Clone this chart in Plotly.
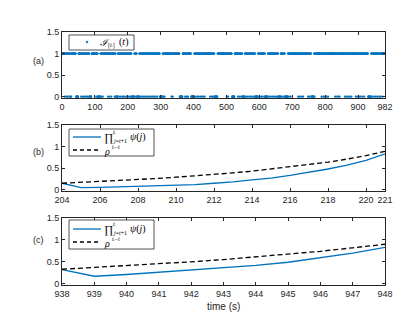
import plotly.graph_objects as go

# ---------------- data ----------------
# panel (a): indicator I_[ti](t), t = 0..982 ; times where it equals 0
T_MAX = 982
ZERO_TIMES = [
    8, 13, 17, 22, 26, 28,
    43, 44, 45, 46, 47, 48, 49,
    58, 63, 67, 72, 76, 80, 84, 85, 86, 87, 88, 89,
    104, 108, 110, 111, 112, 113, 114, 115, 116, 120, 124,
    140, 145, 150,
    160, 164, 165, 166, 167, 168, 169, 174, 179, 184, 188, 193, 198, 203, 207,
    212, 213, 214, 215, 216, 217, 218, 219, 224, 228, 229, 230, 231, 232, 233, 234,
    238, 243, 248, 252, 257, 262, 266, 271, 276, 280, 285, 290,
    298, 299, 300, 301, 302, 303, 304, 305, 309, 312,
    333, 337,
    358, 359, 360, 361, 362, 363, 364, 365, 366,
    374, 379, 383,
    393, 394, 395, 396, 397, 398, 399, 400, 401, 406, 411, 415, 420, 425, 429, 434,
    450, 455, 459, 464, 465, 466, 467, 468, 469, 470, 471, 472,
    501, 505,
    517, 518, 519, 520, 521, 522, 523, 524,
    535, 540, 545, 549, 550, 551, 552, 553, 554, 555, 560, 565, 570, 575, 580, 585,
    588, 589, 590, 591, 592, 593, 594, 595, 600, 605, 610, 615,
    618, 619, 620, 621, 622, 623, 624, 625, 630, 635, 640, 645, 650, 654,
    658, 659, 660, 661, 662, 663, 664,
    668, 673, 678, 679, 680, 681, 682, 683, 684, 685, 686, 690, 695,
    718, 723, 728, 733,
    748, 752, 758, 759, 760, 761, 762, 763, 764, 765, 768,
    789, 794, 799, 804, 809,
    830, 835, 840, 844,
    860, 865, 870, 875, 880,
    893, 898, 903, 908, 914, 919,
    931, 932, 933, 934, 935, 936, 937, 938, 939, 944, 949, 954, 959, 964, 969, 974,
]

# panel (b)
B_T = [204, 205, 206, 207, 208, 209, 210, 211, 212, 213, 214, 215, 216, 217, 218, 219, 220, 221]
B_PSI = [0.15, 0.05, 0.055, 0.065, 0.075, 0.085, 0.10, 0.12, 0.15, 0.18, 0.23, 0.27,
         0.33, 0.40, 0.48, 0.57, 0.68, 0.83]
B_RHO = [0.15, 0.17, 0.19, 0.21, 0.23, 0.26, 0.29, 0.32, 0.35, 0.39, 0.43, 0.48,
         0.53, 0.58, 0.64, 0.71, 0.79, 0.89]

# panel (c)
C_T = [938, 939, 940, 941, 942, 943, 944, 945, 946, 947, 948]
C_PSI = [0.32, 0.17, 0.21, 0.26, 0.31, 0.36, 0.42, 0.49, 0.59, 0.70, 0.83]
C_RHO = [0.33, 0.37, 0.41, 0.45, 0.50, 0.55, 0.61, 0.67, 0.74, 0.82, 0.90]

A_XTICKS = [0, 100, 200, 300, 400, 500, 600, 700, 800, 900, 982]
B_XTICKS = [204, 206, 208, 210, 212, 214, 216, 218, 220, 221]
C_XTICKS = [938, 939, 940, 941, 942, 943, 944, 945, 946, 947, 948]
Y_TICKS = [0, 0.5, 1, 1.5]
Y_TICKTEXT = ["0", "0.5", "1", "1.5"]

PANEL_LABELS = ["(a)", "(b)", "(c)"]
X_TITLE = "time (s)"

# ---------------- figure ----------------
BLUE = "#0072BD"
AXC = "#262626"
W, H = 415, 312
ML, MR, MT, MB = 54, 38, 24, 35
PH = H - MT - MB
SANS = "Liberation Sans, Arial, sans-serif"
SERIF = "Liberation Serif, DejaVu Serif, serif"


def ydom(top_px, bot_px):
    return [(H - MB - bot_px) / PH, (H - MB - top_px) / PH]


def px_x(px):
    return (px - ML) / (W - ML - MR)


def px_y(py):
    return (H - MB - py) / PH


zs = set(ZERO_TIMES)
a_t = list(range(0, T_MAX + 1))
a_y = [0 if t in zs else 1 for t in a_t]

fig = go.Figure()
fig.add_trace(go.Scatter(x=a_t, y=a_y, mode="markers",
                         marker=dict(color=BLUE, size=2.2),
                         name="I[ti](t)", showlegend=False,
                         xaxis="x", yaxis="y"))

fig.add_trace(go.Scatter(x=B_T, y=B_PSI, mode="lines", line=dict(color=BLUE, width=1.3),
                         name="prod psi(j)", showlegend=False, xaxis="x2", yaxis="y2"))
fig.add_trace(go.Scatter(x=B_T, y=B_RHO, mode="lines",
                         line=dict(color="black", width=1.3, dash="5px,3px"),
                         name="rho^(ti-t)", showlegend=False, xaxis="x2", yaxis="y2"))
fig.add_trace(go.Scatter(x=C_T, y=C_PSI, mode="lines", line=dict(color=BLUE, width=1.3),
                         name="prod psi(j)", showlegend=False, xaxis="x3", yaxis="y3"))
fig.add_trace(go.Scatter(x=C_T, y=C_RHO, mode="lines",
                         line=dict(color="black", width=1.3, dash="5px,3px"),
                         name="rho^(ti-t)", showlegend=False, xaxis="x3", yaxis="y3"))

tickfont = dict(family=SANS, size=9, color=AXC)
axcommon = dict(showgrid=False, zeroline=False, showline=True, linecolor=AXC, linewidth=0.8,
                mirror="ticks", ticks="inside", ticklen=3, tickcolor=AXC, tickwidth=0.8,
                tickfont=tickfont)

doms = [ydom(24, 90), ydom(117, 183), ydom(210, 277)]
xr = [[0, T_MAX], [204, 221], [938, 948]]
xt = [A_XTICKS, B_XTICKS, C_XTICKS]
layout = dict(width=W, height=H, margin=dict(l=ML, r=MR, t=MT, b=MB),
              paper_bgcolor="white", plot_bgcolor="white", showlegend=False)
for i in range(3):
    sx = "" if i == 0 else str(i + 1)
    layout["xaxis" + sx] = dict(domain=[0, 1], range=xr[i], tickvals=xt[i],
                                anchor="y" + sx, **axcommon)
    layout["yaxis" + sx] = dict(domain=doms[i], range=[-0.03, 1.5], tickvals=Y_TICKS,
                                ticktext=Y_TICKTEXT, anchor="x" + sx, **axcommon)

shapes = []
ann = []


def txt(s, x, y, size, anchor="left", family=SERIF, color="black"):
    ann.append(dict(text=s, x=px_x(x), y=px_y(y), xref="paper", yref="paper",
                    showarrow=False, xanchor=anchor, yanchor="middle", borderpad=0,
                    font=dict(family=family, size=size, color=color)))


def box(x0, y0, x1, y1):
    shapes.append(dict(type="rect", xref="paper", yref="paper",
                       x0=px_x(x0), x1=px_x(x1), y0=px_y(y1), y1=px_y(y0),
                       line=dict(color=AXC, width=0.8), fillcolor="white", layer="above"))


def sample(x0, x1, y, color, dash=None):
    shapes.append(dict(type="line", xref="paper", yref="paper",
                       x0=px_x(x0), x1=px_x(x1), y0=px_y(y), y1=px_y(y),
                       line=dict(color=color, width=1.3, dash=dash or "solid"), layer="above"))


# legend (a)
box(61, 27, 126, 42)
shapes.append(dict(type="circle", xref="paper", yref="paper",
                   x0=px_x(78), x1=px_x(80), y0=px_y(35), y1=px_y(33),
                   line=dict(color=BLUE, width=0.5), fillcolor=BLUE, layer="above"))
txt("<i>ℐ</i>", 91, 34, 10)
txt("[<i>tᵢ</i>]", 99, 37, 6)
txt("(<i>t</i>)", 110, 34, 10)

# legends (b) and (c)
for top, bot, r1, r2 in [(121, 148, 129, 142), (212, 241, 221, 234)]:
    box(61, top, 146, bot)
    sample(65, 93, r1, BLUE)
    sample(65, 93, r2, "black", "4px,3px")
    txt("∏", 95, r1, 11)
    txt("<i>tᵢ</i>", 104, r1 - 5, 6)
    txt("<i>j</i>=<i>t</i>+1", 104, r1 + 4, 6)
    txt("<i>ψ</i>(<i>j</i>)", 121, r1, 10)
    txt("<i>ρ</i>", 95, r2 + 1, 10)
    txt("<i>tᵢ</i>−<i>t</i>", 102.5, r2 - 3, 6)

for lab, py in zip(PANEL_LABELS, [53, 144, 232]):
    txt(lab, 30, py, 9, anchor="center", family=SANS, color=AXC)
txt(X_TITLE, 215, 298, 10, anchor="center", family=SANS, color=AXC)

layout["shapes"] = shapes
layout["annotations"] = ann

fig.update_layout(**layout)
fig.write_html("out.html")
